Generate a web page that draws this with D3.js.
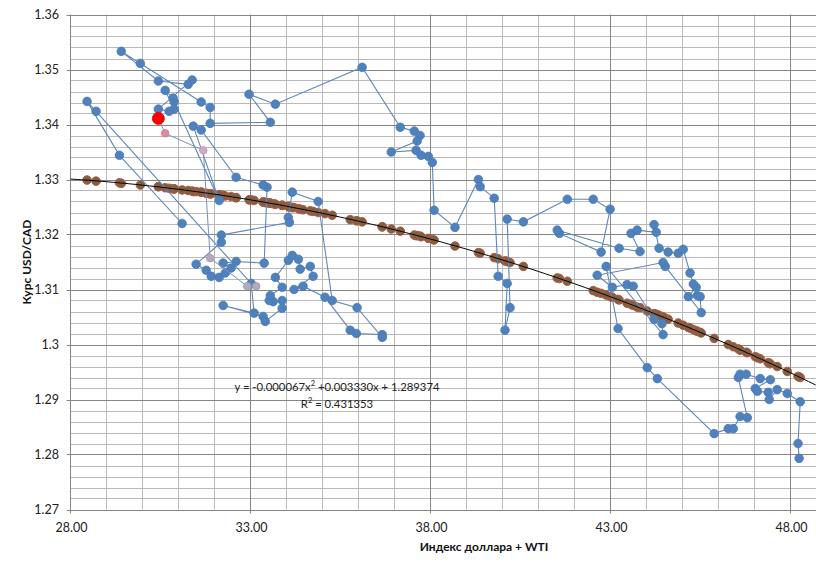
<!DOCTYPE html>
<html>
<head>
<meta charset="utf-8">
<script src="https://cdnjs.cloudflare.com/ajax/libs/d3/7.8.5/d3.min.js"></script>
<style>
  body { margin: 0; background: #fff; }
  svg { display: block; font-family: Lato, "Open Sans", sans-serif; }
  .tickLabel { font-size: 12.5px; fill: #222; }
  .axisTitle { font-size: 12px; font-weight: bold; fill: #111; }
  .eqText { font-size: 11.3px; fill: #222; }
</style>
</head>
<body>
<div id="chart"></div>
<script>
////// 資料 //////
// 藍色: 實際值 (連線順序)
var blueX = [31.10, 29.36, 28.46, 28.71, 33.02, 33.10, 32.24, 33.35, 33.41, 33.88,
  33.88, 33.63, 33.52, 33.55, 33.88, 33.69, 34.05, 34.16, 34.33, 34.38,
  34.66, 34.74, 34.21, 34.46, 35.07, 35.77, 35.94, 36.66, 36.66, 35.96,
  35.27, 34.88, 34.16, 34.05, 34.08, 32.19, 32.19, 31.49, 31.77, 31.91,
  32.13, 32.30, 32.46, 32.24, 32.60, 33.38, 33.46, 33.35, 32.60, 31.63,
  31.41, 32.13, 30.88, 30.85, 30.63, 30.88, 30.74, 30.44, 31.38, 31.27,
  30.44, 29.41, 29.94, 31.63, 31.88, 31.88, 33.55, 32.96, 33.69, 36.10,
  37.16, 37.55, 37.71, 37.63, 36.91, 37.60, 37.74, 37.94, 38.05, 38.10,
  38.68, 39.33, 39.38, 39.77, 39.88, 40.13, 40.07, 40.21, 40.13, 40.58,
  41.80, 42.52, 42.99, 42.74, 41.58, 41.52, 43.24, 43.82, 43.57, 43.74,
  44.27, 44.21, 44.35, 44.60, 44.88, 45.02, 45.21, 45.30, 45.38, 45.16,
  45.41, 45.49, 45.52, 44.52, 44.46, 42.63, 43.05, 43.46, 43.63, 44.21,
  44.43, 44.46, 42.88, 43.21, 44.02, 44.30, 45.88, 46.27, 46.41, 46.60,
  46.80, 46.55, 46.60, 46.77, 47.16, 47.44, 47.02, 47.08, 47.38, 47.41,
  47.63, 47.91, 48.27, 48.21, 48.24];
var blueY = [1.3220, 1.3344, 1.3442, 1.3424, 1.3111, 1.3057, 1.3071, 1.3051, 1.3042, 1.3066,
  1.3080, 1.3078, 1.3080, 1.3089, 1.3104, 1.3122, 1.3153, 1.3162, 1.3155, 1.3137,
  1.3142, 1.3124, 1.3100, 1.3106, 1.3086, 1.3026, 1.3020, 1.3018, 1.3013, 1.3067,
  1.3080, 1.3260, 1.3277, 1.3231, 1.3222, 1.3199, 1.3186, 1.3146, 1.3135, 1.3124,
  1.3122, 1.3130, 1.3139, 1.3148, 1.3151, 1.3148, 1.3286, 1.3290, 1.3304, 1.3390,
  1.3397, 1.3262, 1.3441, 1.3448, 1.3462, 1.3428, 1.3424, 1.3428, 1.3481, 1.3473,
  1.3479, 1.3533, 1.3511, 1.3441, 1.3431, 1.3402, 1.3404, 1.3455, 1.3437, 1.3504,
  1.3395, 1.3388, 1.3380, 1.3370, 1.3350, 1.3353, 1.3344, 1.3342, 1.3331, 1.3244,
  1.3213, 1.3300, 1.3287, 1.3266, 1.3124, 1.3111, 1.3026, 1.3067, 1.3228, 1.3223,
  1.3264, 1.3264, 1.3246, 1.3168, 1.3202, 1.3208, 1.3175, 1.3169, 1.3202, 1.3208,
  1.3204, 1.3218, 1.3175, 1.3168, 1.3166, 1.3173, 1.3130, 1.3110, 1.3104, 1.3087,
  1.3089, 1.3087, 1.3058, 1.3142, 1.3149, 1.3126, 1.3104, 1.3109, 1.3106, 1.3046,
  1.3038, 1.3018, 1.3142, 1.3029, 1.2958, 1.2938, 1.2838, 1.2847, 1.2847, 1.2869,
  1.2867, 1.2940, 1.2946, 1.2946, 1.2938, 1.2936, 1.2920, 1.2915, 1.2913, 1.2900,
  1.2918, 1.2911, 1.2896, 1.2820, 1.2793];
// 棕色: 趨勢值 (與藍色同一個x)
var brownX = blueX;
var brownY = [1.3281, 1.3294, 1.3299, 1.3297, 1.3263, 1.3262, 1.3271, 1.3259, 1.3258, 1.3253,
  1.3253, 1.3256, 1.3257, 1.3257, 1.3253, 1.3255, 1.3251, 1.3249, 1.3247, 1.3246,
  1.3243, 1.3242, 1.3249, 1.3245, 1.3238, 1.3227, 1.3225, 1.3214, 1.3214, 1.3225,
  1.3235, 1.3240, 1.3249, 1.3251, 1.3250, 1.3271, 1.3271, 1.3278, 1.3275, 1.3274,
  1.3272, 1.3270, 1.3269, 1.3271, 1.3267, 1.3259, 1.3258, 1.3259, 1.3267, 1.3277,
  1.3278, 1.3272, 1.3283, 1.3283, 1.3285, 1.3283, 1.3284, 1.3287, 1.3279, 1.3280,
  1.3287, 1.3293, 1.3290, 1.3277, 1.3274, 1.3274, 1.3257, 1.3263, 1.3255, 1.3223,
  1.3206, 1.3199, 1.3197, 1.3198, 1.3210, 1.3198, 1.3196, 1.3193, 1.3191, 1.3190,
  1.3179, 1.3167, 1.3166, 1.3158, 1.3156, 1.3151, 1.3152, 1.3149, 1.3151, 1.3142,
  1.3115, 1.3098, 1.3087, 1.3093, 1.3120, 1.3121, 1.3081, 1.3067, 1.3073, 1.3068,
  1.3055, 1.3056, 1.3053, 1.3046, 1.3039, 1.3035, 1.3030, 1.3027, 1.3025, 1.3031,
  1.3024, 1.3022, 1.3021, 1.3048, 1.3050, 1.3095, 1.3086, 1.3075, 1.3071, 1.3056,
  1.3050, 1.3050, 1.3090, 1.3082, 1.3061, 1.3054, 1.3011, 1.3000, 1.2996, 1.2990,
  1.2985, 1.2992, 1.2990, 1.2986, 1.2974, 1.2965, 1.2978, 1.2976, 1.2967, 1.2966,
  1.2960, 1.2951, 1.2940, 1.2942, 1.2941];
// 最後幾個點 (顏色漸層)
var lastX = [33.16, 32.91, 31.88, 31.69, 30.63, 30.44];
var lastY = [1.3106, 1.3106, 1.3157, 1.3353, 1.3384, 1.3411];
var lastColor = ['#b3abbb', '#b3abbb', '#b3abbb', '#cfaac8', '#e08aa0', '#ff0000'];
// 趨勢線係數 (a x^2 + b x + c)
var trendCoef = [-0.000067, 0.003330, 1.289374];
var trendR2 = 0.431353;
// 軸刻度
var xTicks = [28, 33, 38, 43, 48];
var yTicks = [1.27, 1.28, 1.29, 1.30, 1.31, 1.32, 1.33, 1.34, 1.35, 1.36];

////// 畫布 //////
const chartWidth = 816;
const chartHeight = 571;
var svg = d3.select('#chart')
  .append('svg')
    .attr('width', chartWidth)
    .attr('height', chartHeight);

var x = d3.scaleLinear().domain([28, 48]).range([70.5, 790.5]);
var y = d3.scaleLinear().domain([1.27, 1.36]).range([509.5, 14.5]);
var plotRight = 816;

// 格線 (次要)
var minorX = d3.range(29, 49).filter(d => (d - 28) % 5 != 0);
var minorY = d3.range(1.272, 1.36, 0.002).filter(d => Math.abs(d * 100 - Math.round(d * 100)) > 0.01);
svg.append('g').selectAll('line')
  .data(minorX)
  .enter().append('line')
    .attr('x1', d => x(d)).attr('x2', d => x(d))
    .attr('y1', y(1.36)).attr('y2', y(1.27))
    .style('stroke', '#b9b9b9');
svg.append('g').selectAll('line')
  .data(minorY)
  .enter().append('line')
    .attr('x1', x(28)).attr('x2', plotRight)
    .attr('y1', d => Math.round(y(d)) + 0.5).attr('y2', d => Math.round(y(d)) + 0.5)
    .style('stroke', '#b9b9b9');
// 格線 (主要)
svg.append('g').selectAll('line')
  .data(xTicks)
  .enter().append('line')
    .attr('x1', d => x(d)).attr('x2', d => x(d))
    .attr('y1', y(1.36)).attr('y2', y(1.27) + 4)
    .style('stroke', '#858585');
svg.append('g').selectAll('line')
  .data(yTicks)
  .enter().append('line')
    .attr('x1', x(28) - 4).attr('x2', plotRight)
    .attr('y1', d => Math.round(y(d)) + 0.5).attr('y2', d => Math.round(y(d)) + 0.5)
    .style('stroke', '#858585');

// 刻度文字
svg.append('g').selectAll('text')
  .data(yTicks)
  .enter().append('text')
    .attr('class', 'tickLabel')
    .attr('x', 59)
    .attr('y', d => y(d) + 4.5)
    .style('text-anchor', 'end')
    .text(d => d3.format('.2~f')(d));
svg.append('g').selectAll('text')
  .data(xTicks)
  .enter().append('text')
    .attr('class', 'tickLabel')
    .attr('x', d => x(d) + 1)
    .attr('y', 532)
    .style('text-anchor', 'middle')
    .text(d => d3.format('.2f')(d));

// 軸標題
svg.append('text')
  .attr('class', 'axisTitle')
  .attr('transform', 'translate(31,' + ((y(1.27) + y(1.36)) / 2) + ') rotate(-90)')
  .style('text-anchor', 'middle')
  .text('Курс USD/CAD');
svg.append('text')
  .attr('class', 'axisTitle')
  .attr('x', 484)
  .attr('y', 551)
  .style('text-anchor', 'middle')
  .text('Индекс доллара + WTI');

////// 資料點 //////
svg.append('clipPath').attr('id', 'plotClip')
  .append('rect')
    .attr('x', x(28) - 10).attr('y', 0)
    .attr('width', plotRight - x(28) + 10).attr('height', y(1.27) + 1);
var plot = svg.append('g').attr('clip-path', 'url(#plotClip)');

// 棕色點
var brownData = brownX.map((d, i) => ({x: d, y: brownY[i]}));
plot.append('g').selectAll('circle')
  .data(brownData)
  .enter().append('circle')
    .attr('cx', d => x(d.x))
    .attr('cy', d => y(d.y))
    .attr('r', 4.3)
    .style('fill', '#7d6142')
    .style('stroke', '#b25a44')
    .style('stroke-width', 1);

// 藍色線+點
var blueData = blueX.map((d, i) => ({x: d, y: blueY[i]}));
var line = d3.line().x(d => x(d.x)).y(d => y(d.y));
plot.append('path')
  .datum(blueData)
  .attr('d', line)
  .style('fill', 'none')
  .style('stroke', '#5d87bd')
  .style('stroke-width', 1.1);
plot.append('g').selectAll('circle')
  .data(blueData)
  .enter().append('circle')
    .attr('cx', d => x(d.x))
    .attr('cy', d => y(d.y))
    .attr('r', 4.3)
    .style('fill', '#4f81bd')
    .style('stroke', '#4a7ab5')
    .style('stroke-width', 0.8);

// 最後幾個點
var lastData = lastX.map((d, i) => ({x: d, y: lastY[i], c: lastColor[i]}));
plot.append('path')
  .datum(lastData)
  .attr('d', line)
  .style('fill', 'none')
  .style('stroke', '#7f8fb8')
  .style('stroke-width', 1);
plot.append('g').selectAll('circle')
  .data(lastData)
  .enter().append('circle')
    .attr('cx', d => x(d.x))
    .attr('cy', d => y(d.y))
    .attr('r', (d, i) => i == lastData.length - 1 ? 6 : 3.8)
    .style('fill', d => d.c)
    .style('stroke', d => d3.color(d.c).darker(0.3))
    .style('stroke-width', 0.8);

// 趨勢線
var trend = d3.range(28, 48.8, 0.1).map(v => ({x: v, y: trendCoef[0] * v * v + trendCoef[1] * v + trendCoef[2]}));
plot.append('path')
  .datum(trend)
  .attr('d', line)
  .style('fill', 'none')
  .style('stroke', '#000')
  .style('stroke-width', 1);

// 方程式
var fmt = v => d3.format('.6f')(v).replace('\u2212', '-');
var eq = svg.append('text')
  .attr('class', 'eqText')
  .attr('x', 337)
  .attr('y', 391)
  .style('text-anchor', 'middle');
eq.append('tspan').text('y = ' + fmt(trendCoef[0]) + 'x');
eq.append('tspan').attr('dy', -5).style('font-size', '7.5px').text('2');
eq.append('tspan').attr('dy', 5).text(' +' + fmt(trendCoef[1]) + 'x + ' + fmt(trendCoef[2]));
var r2 = svg.append('text')
  .attr('class', 'eqText')
  .attr('x', 337)
  .attr('y', 408)
  .style('text-anchor', 'middle');
r2.append('tspan').text('R');
r2.append('tspan').attr('dy', -5).style('font-size', '7.5px').text('2');
r2.append('tspan').attr('dy', 5).text(' = ' + fmt(trendR2));
</script>
</body>
</html>
